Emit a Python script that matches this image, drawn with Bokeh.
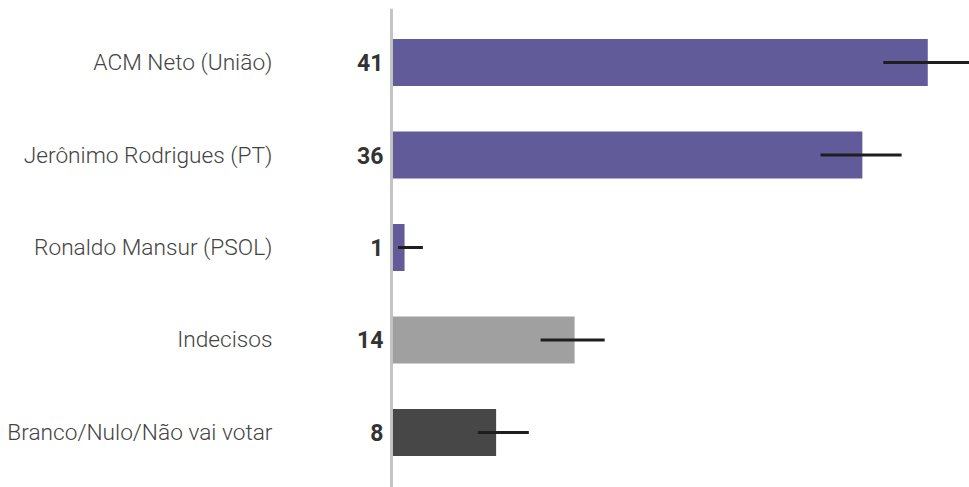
from bokeh.plotting import figure
from bokeh.models import Range1d, FixedTicker, ColumnDataSource, Span
from bokeh.core.properties import value
from bokeh.embed import file_html
from bokeh.resources import INLINE

categories = ["ACM Neto (União)", "Jerônimo Rodrigues (PT)", "Ronaldo Mansur (PSOL)",
              "Indecisos", "Branco/Nulo/Não vai votar"]
values = [41, 36, 1, 14, 8]
err_low = [37.6, 32.8, 0.5, 11.4, 6.6]
err_high = [44.4, 39.0, 2.4, 16.3, 10.5]
colors = ["#615c99", "#615c99", "#615c99", "#a0a0a0", "#474747"]

pos = list(range(len(categories)))
src = ColumnDataSource(dict(y=pos, v=values, lo=err_low, hi=err_high, c=colors,
                            t=[str(v) for v in values]))

p = figure(width=969, height=487, output_backend="svg", toolbar_location=None,
           x_range=Range1d(-7.72, 44.19), y_range=Range1d(4.595, -0.584),
           min_border_left=290, min_border_right=0, min_border_top=8, min_border_bottom=0)
p.outline_line_color = None
p.xgrid.visible = False
p.ygrid.visible = False
p.xaxis.visible = False

ax = p.yaxis[0]
ax.ticker = FixedTicker(ticks=pos)
ax.major_label_overrides = {i: c for i, c in enumerate(categories)}
ax.axis_line_color = None
ax.major_tick_line_color = None
ax.minor_tick_line_color = None
ax.major_label_standoff = 12
ax.major_label_text_font = "Roboto Light"
ax.major_label_text_font_style = "normal"
ax.major_label_text_font_size = "22.7px"
ax.major_label_text_color = "#444444"

p.hbar(y="y", left=0, right="v", height=0.51, color="c", source=src, line_color=None)
p.add_layout(Span(location=0, dimension="height", line_color="#c4c4c4", line_width=3))
p.segment(x0="lo", y0="y", x1="hi", y1="y", line_color="#1e1e1e", line_width=3, source=src)
p.text(x=0, y="y", text="t", x_offset=-8, text_align="right", text_baseline="middle",
       text_font=value("Roboto"), text_font_style="bold", text_font_size="23px",
       text_color="#333333", source=src)

open("out.html", "w").write(file_html(p, INLINE))
